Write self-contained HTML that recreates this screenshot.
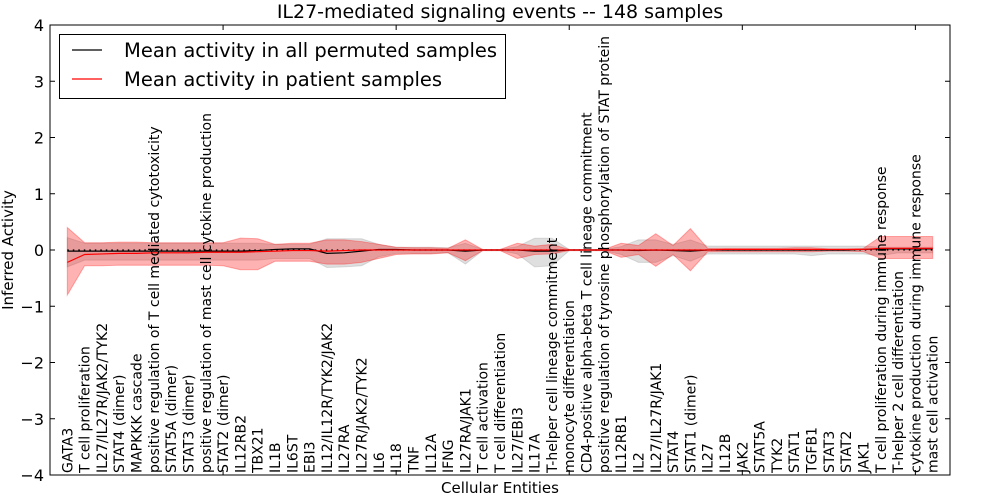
<!DOCTYPE html>
<html><head><meta charset="utf-8"><style>
body{margin:0;background:#fff;}
svg{display:block;font-family:"DejaVu Sans","Liberation Sans",sans-serif;}
</style></head><body>
<svg id="chart" width="1000" height="500" xmlns="http://www.w3.org/2000/svg"></svg>
<script>
const categories=["GATA3","T cell proliferation","IL27/IL27R/JAK2/TYK2","STAT4 (dimer)","MAPKKK cascade","positive regulation of T cell mediated cytotoxicity","STAT5A (dimer)","STAT3 (dimer)","positive regulation of mast cell cytokine production","STAT2 (dimer)","IL12RB2","TBX21","IL1B","IL6ST","EBI3","IL12/IL12R/TYK2/JAK2","IL27RA","IL27R/JAK2/TYK2","IL6","IL18","TNF","IL12A","IFNG","IL27RA/JAK1","T cell activation","T cell differentiation","IL27/EBI3","IL17A","T-helper cell lineage commitment","monocyte differentiation","CD4-positive alpha-beta T cell lineage commitment","positive regulation of tyrosine phosphorylation of STAT protein","IL12RB1","IL2","IL27/IL27R/JAK1","STAT4","STAT1 (dimer)","IL27","IL12B","JAK2","STAT5A","TYK2","STAT1","TGFB1","STAT3","STAT2","JAK1","T cell proliferation during immune response","T-helper 2 cell differentiation","cytokine production during immune response","mast cell activation"];
const patientMean=[-0.22,-0.08,-0.07,-0.06,-0.06,-0.05,-0.05,-0.05,-0.04,-0.04,-0.04,-0.03,-0.02,-0.01,-0.01,-0.02,-0.01,0,0,0,0,0,0,0,0,0,0,0,0,0,0,0,0,0,0,0,0,0,0.01,0.01,0.01,0.01,0.01,0.01,0.01,0.01,0.01,0.03,0.03,0.03,0.03];
const patientUpper=[0.4,0.13,0.13,0.14,0.14,0.13,0.13,0.13,0.13,0.13,0.21,0.2,0.1,0.12,0.12,0.18,0.18,0.15,0.1,0.05,0.04,0.04,0.03,0.18,0.01,0.01,0.12,0.07,0.1,0.01,0.01,0.01,0.12,0.08,0.29,0.08,0.38,0.03,0.03,0.03,0.03,0.03,0.04,0.04,0.02,0.02,0.03,0.24,0.24,0.24,0.24];
const patientLower=[-0.8,-0.28,-0.28,-0.27,-0.27,-0.27,-0.27,-0.27,-0.27,-0.28,-0.35,-0.35,-0.2,-0.2,-0.2,-0.25,-0.25,-0.22,-0.15,-0.08,-0.07,-0.07,-0.05,-0.19,-0.01,-0.01,-0.15,-0.08,-0.07,-0.01,-0.01,-0.01,-0.13,-0.08,-0.29,-0.08,-0.37,-0.03,-0.03,-0.03,-0.03,-0.03,-0.03,-0.03,-0.02,-0.02,-0.03,-0.15,-0.15,-0.15,-0.15];
const permMean=[-0.02,-0.02,-0.02,-0.02,-0.02,-0.02,-0.02,-0.02,-0.02,-0.02,-0.02,-0.01,0.01,0.02,0.02,-0.06,-0.05,-0.02,0.01,0.01,0,0,0,-0.02,0,0,0,-0.02,-0.02,0,0,0,0,-0.01,0,-0.01,-0.02,0,0,0,0,0,0,0,0,0,0.01,0.02,0.02,0.02,0.02];
const permUpper=[0.22,0.12,0.12,0.12,0.12,0.12,0.12,0.12,0.12,0.12,0.12,0.12,0.1,0.1,0.1,0.2,0.2,0.2,0.1,0.05,0.05,0.05,0.04,0.12,0.01,0.01,0.06,0.21,0.21,0.01,0.01,0.01,0.06,0.18,0.18,0.1,0.18,0.07,0.07,0.07,0.07,0.07,0.07,0.07,0.07,0.07,0.07,0.05,0.05,0.05,0.05];
const permLower=[-0.3,-0.18,-0.18,-0.18,-0.18,-0.18,-0.18,-0.18,-0.18,-0.18,-0.18,-0.18,-0.15,-0.15,-0.15,-0.31,-0.3,-0.28,-0.12,-0.06,-0.06,-0.06,-0.05,-0.25,-0.01,-0.01,-0.07,-0.3,-0.28,-0.01,-0.01,-0.01,-0.08,-0.22,-0.22,-0.1,-0.2,-0.07,-0.07,-0.07,-0.07,-0.07,-0.07,-0.1,-0.07,-0.07,-0.07,-0.1,-0.05,-0.05,-0.05];
const yTicks=[-4,-3,-2,-1,0,1,2,3,4];
const xTicks=[0,10,20,30,40,50];

const NS="http://www.w3.org/2000/svg";
const svg=document.getElementById('chart');
const L=50,R=950,T=25,B=475;
const xs=i=>L+(i+1)*(R-L)/52;
const xa=v=>L+v*(R-L)/52;
const ys=v=>T+(4-v)*(B-T)/8;
function mk(tag,attrs,parent){const e=document.createElementNS(NS,tag);for(const k in attrs)e.setAttribute(k,attrs[k]);(parent||svg).appendChild(e);return e;}
function band(up,lo,fill,stroke,name){
  let d='M'+up.map((v,i)=>xs(i)+','+ys(v)).join(' L');
  for(let i=lo.length-1;i>=0;i--)d+=' L'+xs(i)+','+ys(lo[i]);
  const p=mk('path',{d:d+'Z',fill:fill,stroke:stroke,'stroke-width':1});
  
  
}
band(permUpper,permLower,'rgba(150,150,150,0.3)','rgba(150,150,150,0.3)','permuted-band');
band(patientUpper,patientLower,'rgba(255,0,0,0.3)','rgba(255,0,0,0.3)','patient-band');
const zl=mk('line',{x1:xs(0),x2:xs(categories.length-1),y1:ys(0),y2:ys(0),stroke:'#000','stroke-width':1.2,'stroke-dasharray':'1.5,4'});


function line(arr,col,name){
  const p=mk('polyline',{points:arr.map((v,i)=>xs(i)+','+ys(v)).join(' '),fill:'none',stroke:col,'stroke-width':1.2});
  
  
}
line(permMean,'#000','permuted-mean-line');
line(patientMean,'#f00','patient-mean-line');
categories.forEach((c,i)=>{
  const t=mk('text',{x:0,y:0,'font-size':14,transform:`translate(${xs(i)+5},${B-2}) rotate(-90)`});
  t.textContent=c;
  
  
});
const fr=mk('rect',{x:L,y:T,width:R-L,height:B-T,fill:'none',stroke:'#000','stroke-width':1});


yTicks.forEach(v=>{
  mk('line',{x1:L,x2:L+5,y1:ys(v),y2:ys(v),stroke:'#000'});
  mk('line',{x1:R,x2:R-5,y1:ys(v),y2:ys(v),stroke:'#000'});
  const t=mk('text',{x:L-6,y:ys(v)+6,'font-size':16,'text-anchor':'end'});
  t.textContent=(v<0?'\u2212'+(-v):v);
  
  
});
xTicks.forEach(v=>{
  mk('line',{x1:xa(v),x2:xa(v),y1:T,y2:T+5,stroke:'#000'});
  mk('line',{x1:xa(v),x2:xa(v),y1:B,y2:B-5,stroke:'#000'});
});
</script>
<svg style="position:absolute;left:0;top:0" width="1000" height="500" xmlns="http://www.w3.org/2000/svg" font-family="DejaVu Sans, Liberation Sans, sans-serif">
<text x="500" y="18" font-size="19" text-anchor="middle">IL27-mediated signaling events -- 148 samples</text>
<text x="500" y="493" font-size="15" text-anchor="middle">Cellular Entities</text>
<text x="0" y="0" font-size="15" text-anchor="middle" transform="translate(13,250) rotate(-90)">Inferred Activity</text>
<g>
<rect x="59.5" y="34.5" width="446" height="64" fill="#fff" stroke="#000"/>
<line x1="72" x2="102" y1="50" y2="50" stroke="#000" stroke-width="1.2"/>
<text x="124" y="57" font-size="19.5">Mean activity in all permuted samples</text>
<line x1="72" x2="102" y1="79" y2="79" stroke="#f00" stroke-width="1.2"/>
<text x="124" y="86" font-size="19.5">Mean activity in patient samples</text>
</g>
</svg>
</body></html>
